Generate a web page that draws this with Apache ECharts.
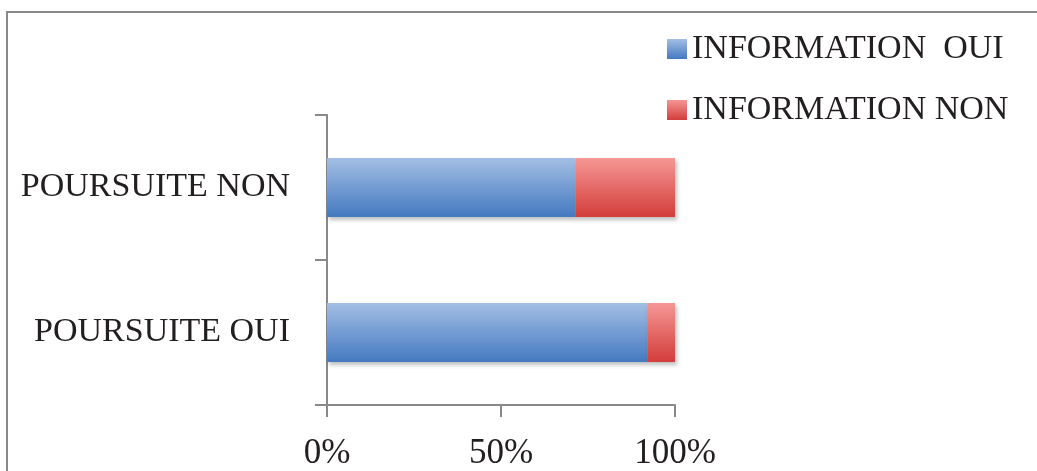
<!DOCTYPE html>
<html>
<head>
<meta charset="utf-8">
<script src="https://cdn.jsdelivr.net/npm/echarts@6/dist/echarts.min.js"></script>
<style>
html,body{margin:0;padding:0;background:#fff;}
#c{width:1037px;height:471px;}
</style>
</head>
<body>
<div id="c"></div>
<script>
const categories = ['POURSUITE OUI', 'POURSUITE NON'];
const infoOui = [92, 71.5];
const infoNon = [8, 28.5];
const seriesNames = ['INFORMATION  OUI', 'INFORMATION NON'];
const xTicks = [0, 50, 100];

const font = 'Liberation Serif, Times New Roman, serif';
const txt = '#231f20';
const axisCol = '#898989';

function grad(top, bottom) {
  return new echarts.graphic.LinearGradient(0, 0, 0, 1, [
    { offset: 0, color: top },
    { offset: 1, color: bottom }
  ]);
}

const chart = echarts.init(document.getElementById('c'), null, { renderer: 'canvas' });
chart.setOption({
  animation: false,
  backgroundColor: '#fff',
  graphic: [{
    type: 'rect',
    shape: { x: 7, y: 12, width: 1200, height: 600 },
    style: { fill: 'none', stroke: axisCol, lineWidth: 2 },
    silent: true
  }],
  legend: {
    orient: 'vertical',
    left: 662,
    top: 27,
    icon: 'rect',
    itemWidth: 20,
    itemHeight: 20,
    itemGap: 27,
    textStyle: { fontFamily: font, fontSize: 34, color: txt, padding: [0, 0, 0, 0] },
    data: seriesNames
  },
  grid: { left: 327, right: 362, top: 115, bottom: 66, containLabel: false },
  xAxis: {
    type: 'value',
    min: xTicks[0],
    max: xTicks[xTicks.length - 1],
    interval: 50,
    axisLine: { show: true, lineStyle: { color: axisCol, width: 2 } },
    axisTick: { show: true, length: 12, inside: false, lineStyle: { color: axisCol, width: 2 } },
    splitLine: { show: false },
    axisLabel: { formatter: '{value}%', fontFamily: font, fontSize: 35, color: txt, margin: 31 }
  },
  yAxis: {
    type: 'category',
    data: categories,
    axisLine: { show: true, lineStyle: { color: axisCol, width: 2 } },
    axisTick: { show: true, length: 12, lineStyle: { color: axisCol, width: 2 } },
    axisLabel: { fontFamily: font, fontSize: 34, color: txt, margin: 37 }
  },
  series: [
    {
      name: seriesNames[0],
      type: 'bar',
      stack: 'total',
      barWidth: 59,
      data: infoOui,
      itemStyle: {
        color: grad('#a3bfe4', '#4479c0'),
        shadowColor: 'rgba(0,0,0,0.25)', shadowBlur: 4, shadowOffsetX: 2, shadowOffsetY: 3
      }
    },
    {
      name: seriesNames[1],
      type: 'bar',
      stack: 'total',
      barWidth: 59,
      data: infoNon,
      itemStyle: {
        color: grad('#f59795', '#d33d3a'),
        shadowColor: 'rgba(0,0,0,0.25)', shadowBlur: 4, shadowOffsetX: 2, shadowOffsetY: 3
      }
    }
  ]
});
</script>
</body>
</html>
